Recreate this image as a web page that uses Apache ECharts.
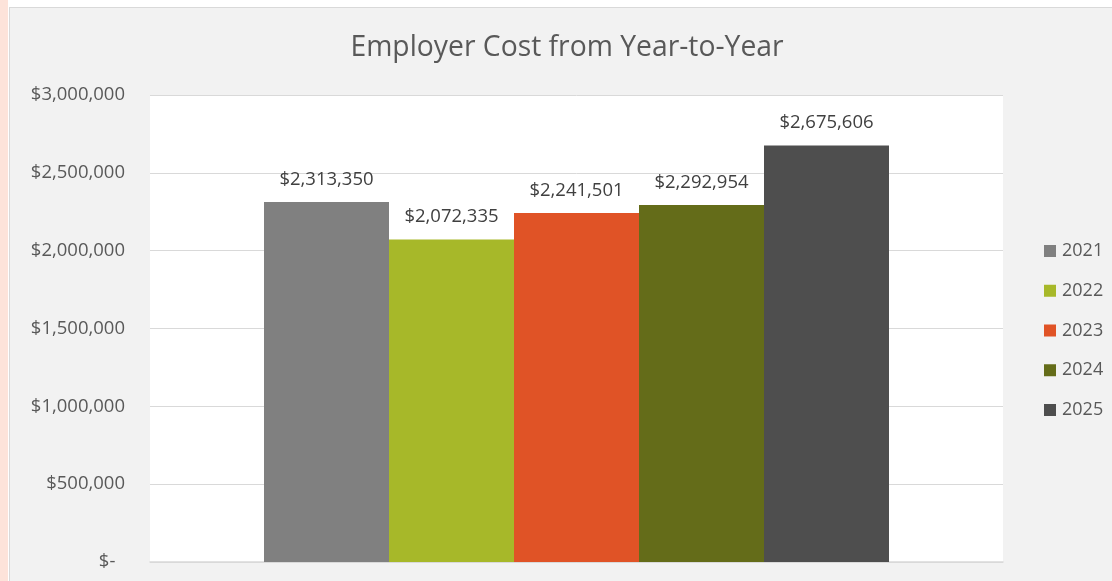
<!DOCTYPE html>
<html>
<head>
<meta charset="utf-8">
<script src="https://cdn.jsdelivr.net/npm/echarts@6/dist/echarts.min.js"></script>
<style>
  html, body { margin: 0; padding: 0; width: 1112px; height: 581px; overflow: hidden; background: #ffffff; }
  #pink { position: absolute; left: 0; top: 0; width: 8px; height: 581px; background: #fde3da; }
  #frame { position: absolute; left: 9px; top: 7px; width: 1103px; height: 574px; background: #f2f2f2; border-left: 1px solid #d9d9d9; border-top: 1px solid #d9d9d9; box-sizing: border-box; }
  #chart { position: absolute; left: 0; top: 0; width: 1112px; height: 581px; }
</style>
</head>
<body>
<div id="pink"></div>
<div id="frame"></div>
<div id="chart"></div>
<script>
const titleText = 'Employer Cost from Year-to-Year';
const categories = [''];
const seriesNames = ['2021', '2022', '2023', '2024', '2025'];
const seriesValues = [2313350, 2072335, 2241501, 2292954, 2675606];
const seriesColors = ['#808080', '#a7b829', '#e05326', '#646c19', '#4e4e4e'];

const FONT = '"Open Sans", sans-serif';
function money(v) {
  if (v === 0) return '$-  ';
  return '$' + Math.round(v).toLocaleString('en-US');
}

const chart = echarts.init(document.getElementById('chart'), null, { renderer: 'canvas' });
chart.setOption({
  backgroundColor: 'transparent',
  animation: false,
  textStyle: { fontFamily: FONT },
  title: {
    text: titleText,
    left: 562,
    textAlign: 'center',
    top: 29,
    textStyle: { fontFamily: FONT, fontSize: 28.3, fontWeight: 'normal', color: '#595959' }
  },
  legend: {
    orient: 'vertical',
    left: 1039,
    top: 236,
    itemWidth: 12,
    itemHeight: 12,
    itemGap: 19.75,
    icon: 'rect',
    data: seriesNames,
    textStyle: { fontFamily: FONT, fontSize: 18, color: '#595959', lineHeight: 20, padding: [0, 0, 0, 1] }
  },
  grid: {
    left: 150, top: 95, width: 853, height: 467,
    show: true, backgroundColor: '#ffffff', borderWidth: 0,
    containLabel: false
  },
  xAxis: {
    type: 'category',
    data: categories,
    axisLine: { show: true, lineStyle: { color: '#d9d9d9', width: 1.5 } },
    axisTick: { show: false },
    axisLabel: { show: false },
    splitLine: { show: false }
  },
  yAxis: {
    type: 'value',
    min: 0, max: 3000000, interval: 500000,
    axisLine: { show: false },
    axisTick: { show: false },
    axisLabel: { color: '#595959', fontSize: 18.5, fontFamily: FONT, margin: 25, formatter: money },
    splitLine: { lineStyle: { color: '#d9d9d9', width: 1 } }
  },
  series: seriesNames.map((name, i) => ({
    name: name,
    type: 'bar',
    data: [seriesValues[i]],
    barWidth: 125,
    barGap: '0%',
    itemStyle: { color: seriesColors[i] },
    label: {
      show: true,
      position: 'top',
      distance: 13,
      color: '#404040',
      fontSize: 18.5,
      fontFamily: FONT,
      formatter: p => money(p.value)
    }
  }))
});
</script>
</body>
</html>
